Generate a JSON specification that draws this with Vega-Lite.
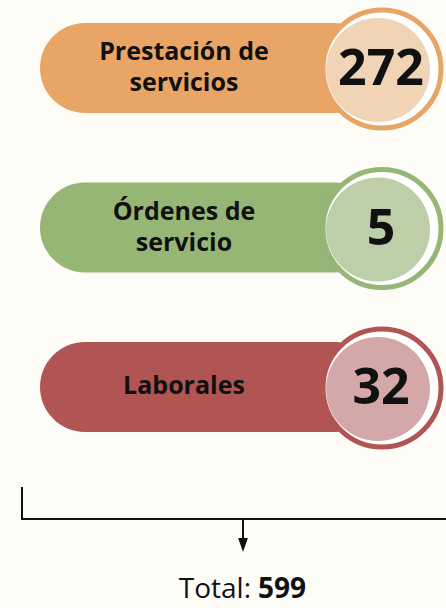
{
  "$schema": "https://vega.github.io/schema/vega-lite/v6.json",
  "width": 446,
  "height": 608,
  "autosize": {"type": "none"},
  "padding": 0,
  "background": "#FDFCF7",
  "config": {
    "view": {"stroke": null},
    "axis": {"disable": true},
    "legend": {"disable": true}
  },
  "datasets": {
    "items": [
      {"cat": "Prestación de servicios", "label": ["Prestación de", "servicios"], "n": 272},
      {"cat": "Órdenes de servicio", "label": ["Órdenes de", "servicio"], "n": 5},
      {"cat": "Laborales", "label": ["Laborales"], "n": 32}
    ],
    "total": [
      {"label": "Total:", "total": 599}
    ]
  },
  "resolve": {"scale": {"y": "independent"}},
  "layer": [
    {
      "data": {"name": "items"},
      "encoding": {
        "y": {
          "field": "cat",
          "type": "nominal",
          "sort": null,
          "scale": {
            "type": "point",
            "domain": ["Prestación de servicios", "Órdenes de servicio", "Laborales"],
            "range": [68, 387],
            "padding": 0
          },
          "axis": null
        }
      },
      "layer": [
        {
          "mark": {"type": "bar", "height": 90, "cornerRadius": 45},
          "encoding": {
            "x": {"datum": 40, "type": "quantitative", "scale": {"domain": [0, 446], "nice": false, "zero": false}, "axis": null},
            "x2": {"datum": 380},
            "color": {
              "field": "cat",
              "type": "nominal",
              "scale": {
                "domain": ["Prestación de servicios", "Órdenes de servicio", "Laborales"],
                "range": ["#E8A566", "#95B675", "#B05454"]
              },
              "legend": null
            }
          }
        },
        {
          "mark": {"type": "point", "shape": "circle", "size": 13924, "strokeWidth": 5, "filled": false, "fill": "#FFFFFF", "fillOpacity": 1, "opacity": 1, "yOffset": 1},
          "encoding": {
            "x": {"datum": 382, "type": "quantitative"},
            "stroke": {
              "field": "cat",
              "type": "nominal",
              "scale": {
                "domain": ["Prestación de servicios", "Órdenes de servicio", "Laborales"],
                "range": ["#E8A566", "#95B675", "#B05454"]
              },
              "legend": null
            }
          }
        },
        {
          "mark": {"type": "point", "shape": "circle", "size": 10816, "filled": true, "opacity": 1, "strokeWidth": 0, "yOffset": 2},
          "encoding": {
            "x": {"datum": 378, "type": "quantitative"},
            "fill": {
              "field": "cat",
              "type": "nominal",
              "scale": {
                "domain": ["Prestación de servicios", "Órdenes de servicio", "Laborales"],
                "range": ["#F0D4B5", "#BCCFA8", "#D4A8A8"]
              },
              "legend": null
            }
          }
        },
        {
          "transform": [{"filter": "length(datum.label) == 2"}],
          "mark": {"type": "text", "font": "Open Sans", "fontSize": 25, "fontWeight": "bold", "lineHeight": 31, "align": "center", "baseline": "middle", "color": "#111111", "yOffset": -16},
          "encoding": {
            "x": {"datum": 184, "type": "quantitative"},
            "text": {"field": "label"}
          }
        },
        {
          "transform": [{"filter": "length(datum.label) == 1"}],
          "mark": {"type": "text", "font": "Open Sans", "fontSize": 25, "fontWeight": "bold", "align": "center", "baseline": "middle", "color": "#111111", "yOffset": -1},
          "encoding": {
            "x": {"datum": 184, "type": "quantitative"},
            "text": {"field": "label"}
          }
        },
        {
          "mark": {"type": "text", "font": "Open Sans", "fontSize": 50, "fontWeight": "bold", "align": "center", "baseline": "middle", "color": "#111111", "yOffset": 2},
          "encoding": {
            "x": {"datum": 381, "type": "quantitative"},
            "text": {"field": "n", "type": "quantitative"}
          }
        }
      ]
    },
    {
      "data": {"name": "total"},
      "layer": [
        {
          "mark": {"type": "rule", "color": "#111111", "strokeWidth": 2},
          "encoding": {
            "x": {"datum": 22, "type": "quantitative"},
            "y": {"datum": 487, "type": "quantitative", "scale": {"domain": [0, 608], "reverse": true, "nice": false, "zero": false}, "axis": null},
            "y2": {"datum": 520}
          }
        },
        {
          "mark": {"type": "rule", "color": "#111111", "strokeWidth": 2},
          "encoding": {
            "x": {"datum": 21, "type": "quantitative"},
            "x2": {"datum": 446},
            "y": {"datum": 519, "type": "quantitative"}
          }
        },
        {
          "mark": {"type": "rule", "color": "#111111", "strokeWidth": 2},
          "encoding": {
            "x": {"datum": 243, "type": "quantitative"},
            "y": {"datum": 519, "type": "quantitative"},
            "y2": {"datum": 541}
          }
        },
        {
          "mark": {"type": "point", "shape": "M-0.7,-1L0.7,-1L0,1Z", "size": 196, "filled": true, "opacity": 1, "color": "#111111", "strokeWidth": 0},
          "encoding": {
            "x": {"datum": 243, "type": "quantitative"},
            "y": {"datum": 545, "type": "quantitative"}
          }
        },
        {
          "mark": {"type": "text", "font": "Open Sans", "fontSize": 28, "align": "right", "baseline": "alphabetic", "color": "#111111"},
          "encoding": {
            "x": {"datum": 251, "type": "quantitative"},
            "y": {"datum": 598, "type": "quantitative"},
            "text": {"field": "label"}
          }
        },
        {
          "mark": {"type": "text", "font": "Open Sans", "fontSize": 28, "fontWeight": "bold", "align": "left", "baseline": "alphabetic", "color": "#111111"},
          "encoding": {
            "x": {"datum": 258, "type": "quantitative"},
            "y": {"datum": 598, "type": "quantitative"},
            "text": {"field": "total", "type": "quantitative"}
          }
        }
      ]
    }
  ]
}
